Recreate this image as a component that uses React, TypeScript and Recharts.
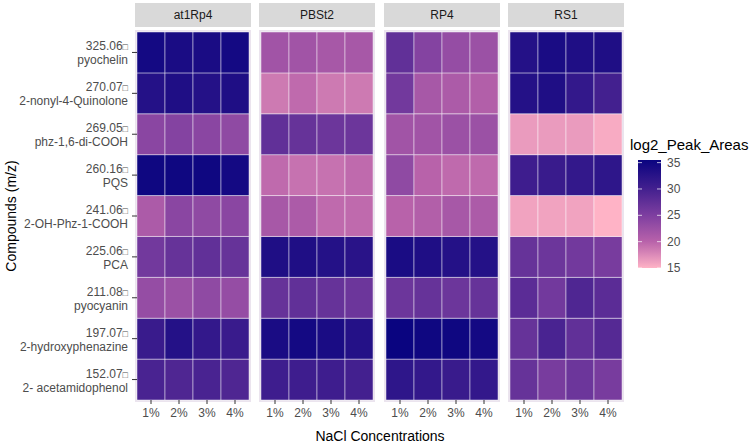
import { Bar, BarChart, Cell, XAxis, YAxis } from "recharts";

const compounds = [
  "pyochelin",
  "2-nonyl-4-Quinolone",
  "phz-1,6-di-COOH",
  "PQS",
  "2-OH-Phz-1-COOH",
  "PCA",
  "pyocyanin",
  "2-hydroxyphenazine",
  "2- acetamidophenol",
];
const mzValues = ["325.06", "270.07", "269.05", "260.16", "241.06", "225.06", "211.08", "197.07", "152.07"];
const concentrations = ["1%", "2%", "3%", "4%"];
const strains = ["at1Rp4", "PBSt2", "RP4", "RS1"];
const legendTicks = [15, 20, 25, 30, 35];

// log2 peak areas, rows follow `compounds`, columns follow `concentrations`
const at1Rp4Areas = [
  [34.5, 34, 34, 34.5],
  [33, 33.5, 33, 33.5],
  [24, 24.5, 24, 23.5],
  [35, 35, 35, 34.5],
  [21, 24, 23.5, 24],
  [26, 27, 27.5, 27],
  [23, 22.5, 23.5, 23],
  [31, 33, 31.5, 31],
  [29.5, 29, 29.5, 29],
];
const pbst2Areas = [
  [22, 22, 21.5, 21.5],
  [18.5, 19.5, 18.5, 18.5],
  [27.5, 27, 26.5, 26.5],
  [19.5, 19, 19, 19.5],
  [21.5, 21, 19.5, 19.5],
  [33.5, 33.5, 33, 32.5],
  [27, 27.5, 27, 26.5],
  [34, 34.5, 34, 33],
  [30.5, 30.5, 30.5, 30],
];
const rp4Areas = [
  [27.5, 24.5, 23, 22.5],
  [26, 21.5, 21, 20.5],
  [22, 22, 22.5, 22.5],
  [23.5, 20, 19.5, 19.5],
  [20, 20.5, 21.5, 21],
  [34, 33.5, 33, 33],
  [26.5, 27, 26.5, 27],
  [35.5, 35, 35, 34.5],
  [32, 31.5, 31, 31.5],
];
const rs1Areas = [
  [33, 34, 33.5, 33.5],
  [33, 33.5, 31.5, 30],
  [16.5, 16.5, 16.5, 15.5],
  [30.5, 31, 31.5, 32],
  [16, 16, 16, 15],
  [27, 26.5, 26, 25.5],
  [28, 26, 29, 28],
  [27, 29.5, 27.5, 28.5],
  [27, 25.5, 26.5, 25.5],
];
const strainAreas = [at1Rp4Areas, pbst2Areas, rp4Areas, rs1Areas];

// colour scale anchors (value, colour)
const scaleValues = [15, 20, 25, 30, 35.5];
const scaleColours = ["#FFB3C6", "#B862AA", "#7E3FA0", "#43208F", "#0A0480"];

const allValues = strainAreas.flat(2);
const lo = Math.min(...allValues);
const hi = Math.max(...allValues);

function hexRgb(h: string) {
  const n = parseInt(h.slice(1), 16);
  return [(n >> 16) & 255, (n >> 8) & 255, n & 255];
}

function fillFor(v: number) {
  let k = 0;
  while (k < scaleValues.length - 2 && v > scaleValues[k + 1]) k++;
  const t = Math.min(1, Math.max(0, (v - scaleValues[k]) / (scaleValues[k + 1] - scaleValues[k])));
  const a = hexRgb(scaleColours[k]);
  const b = hexRgb(scaleColours[k + 1]);
  const c = a.map((x, i) => Math.round(x + (b[i] - x) * t));
  return `rgb(${c[0]},${c[1]},${c[2]})`;
}

const FONT = "'Liberation Sans', Arial, Helvetica, sans-serif";
const panelLefts = [135, 259, 384, 508];
const PANEL_W = 116;
const PANEL_TOP = 30;
const PANEL_BOTTOM = 402;
const INSET = 2;
const Y_AXIS_W = 137;
const rowTicks = compounds.map((_, i) => compounds.length - i - 0.5);

function buildRows() {
  return concentrations.map((conc) => {
    const row: Record<string, string | number> = { conc };
    compounds.forEach((_, i) => {
      row[`k${i}`] = 1;
    });
    return row;
  });
}

function CompoundTick(props: any) {
  const { x, y, payload } = props;
  const i = Math.round(compounds.length - 0.5 - payload.value);
  return (
    <text x={x} y={y} textAnchor="end" fontSize={12} fill="#4D4D4D" fontFamily={FONT}>
      <tspan x={x} dy={-2}>
        {mzValues[i]}
        <tspan fontSize={9}>□</tspan>
      </tspan>
      <tspan x={x} dy={14}>
        {compounds[i]}
      </tspan>
    </text>
  );
}

function Panel({ index }: { index: number }) {
  const values = strainAreas[index];
  const rows = buildRows();
  const first = index === 0;
  const left = first ? 0 : panelLefts[index] + INSET;
  const width = first ? panelLefts[0] + PANEL_W - INSET : PANEL_W - 2 * INSET;
  const xAxisH = 24;
  return (
    <div style={{ position: "absolute", left, top: 0 }}>
      <BarChart
        width={width}
        height={444}
        data={rows}
        barCategoryGap={0}
        barGap={0}
        margin={{ top: PANEL_TOP + INSET, bottom: 444 - PANEL_BOTTOM + INSET - xAxisH, left: 0, right: 0 }}
      >
        <XAxis
          dataKey="conc"
          height={xAxisH}
          axisLine={false}
          tickSize={4}
          tickMargin={4}
          tickLine={{ stroke: "#333333" }}
          tick={{ fontSize: 12, fill: "#4D4D4D", fontFamily: FONT }}
          interval={0}
        />
        <YAxis
          type="number"
          domain={[0, compounds.length]}
          ticks={rowTicks}
          hide={!first}
          width={Y_AXIS_W}
          axisLine={false}
          tickSize={5}
          tickMargin={4}
          tickLine={{ stroke: "#333333" }}
          tick={<CompoundTick />}
          interval={0}
        />
        {compounds
          .map((_, i) => i)
          .reverse()
          .map((i) => (
            <Bar
              key={i}
              dataKey={`k${i}`}
              stackId="cells"
              isAnimationActive={false}
              stroke="rgba(255,255,255,0.45)"
              strokeWidth={1}
            >
              {concentrations.map((c, j) => (
                <Cell key={c} fill={fillFor(values[i][j])} />
              ))}
            </Bar>
          ))}
      </BarChart>
    </div>
  );
}

function ColourBar() {
  const top = 160;
  const bottom = 268;
  const barX = 638;
  const barW = 23;
  const yOf = (v: number) => bottom - ((v - lo) / (hi - lo)) * (bottom - top);
  const stops = Array.from({ length: 21 }, (_, k) => k / 20);
  return (
    <svg width={749} height={444} style={{ position: "absolute", left: 0, top: 0, pointerEvents: "none" }}>
      <defs>
        <linearGradient id="legendGrad" x1="0" y1="1" x2="0" y2="0">
          {stops.map((s) => (
            <stop key={s} offset={s} stopColor={fillFor(lo + s * (hi - lo))} />
          ))}
        </linearGradient>
      </defs>
      <text x={630} y={150} fontSize={15} fill="#000" fontFamily={FONT}>
        log2_Peak_Areas
      </text>
      <rect x={barX} y={top} width={barW} height={bottom - top} fill="url(#legendGrad)" />
      {legendTicks.map((t) => (
        <g key={t}>
          <line x1={barX} x2={barX + 4} y1={yOf(t)} y2={yOf(t)} stroke="#fff" strokeOpacity={0.7} />
          <line x1={barX + barW - 4} x2={barX + barW} y1={yOf(t)} y2={yOf(t)} stroke="#fff" strokeOpacity={0.7} />
          <text x={667} y={yOf(t) + 4} fontSize={12} fill="#4D4D4D" fontFamily={FONT}>
            {t}
          </text>
        </g>
      ))}
      <text x={380} y={441} fontSize={14} textAnchor="middle" fill="#000" fontFamily={FONT}>
        NaCl Concentrations
      </text>
      <text
        x={0}
        y={0}
        fontSize={14}
        textAnchor="middle"
        fill="#000"
        fontFamily={FONT}
        transform={`translate(16 ${(PANEL_TOP + PANEL_BOTTOM) / 2}) rotate(-90)`}
      >
        Compounds (m/z)
      </text>
    </svg>
  );
}

export default function App() {
  return (
    <div
      style={{
        position: "fixed",
        left: 0,
        top: 0,
        width: 749,
        height: 444,
        background: "#fff",
        overflow: "hidden",
      }}
    >
      {strains.map((s, k) => (
        <div key={s}>
          <div
            style={{
              position: "absolute",
              left: panelLefts[k],
              top: 3,
              width: PANEL_W,
              height: 24,
              background: "#D9D9D9",
              color: "#1A1A1A",
              fontFamily: FONT,
              fontSize: 12,
              lineHeight: "24px",
              textAlign: "center",
            }}
          >
            {s}
          </div>
          <div
            style={{
              position: "absolute",
              left: panelLefts[k],
              top: PANEL_TOP,
              width: PANEL_W,
              height: PANEL_BOTTOM - PANEL_TOP,
              background: "#EBE4EE",
            }}
          />
        </div>
      ))}
      {strains.map((s, k) => (
        <Panel key={s} index={k} />
      ))}
      <ColourBar />
    </div>
  );
}
